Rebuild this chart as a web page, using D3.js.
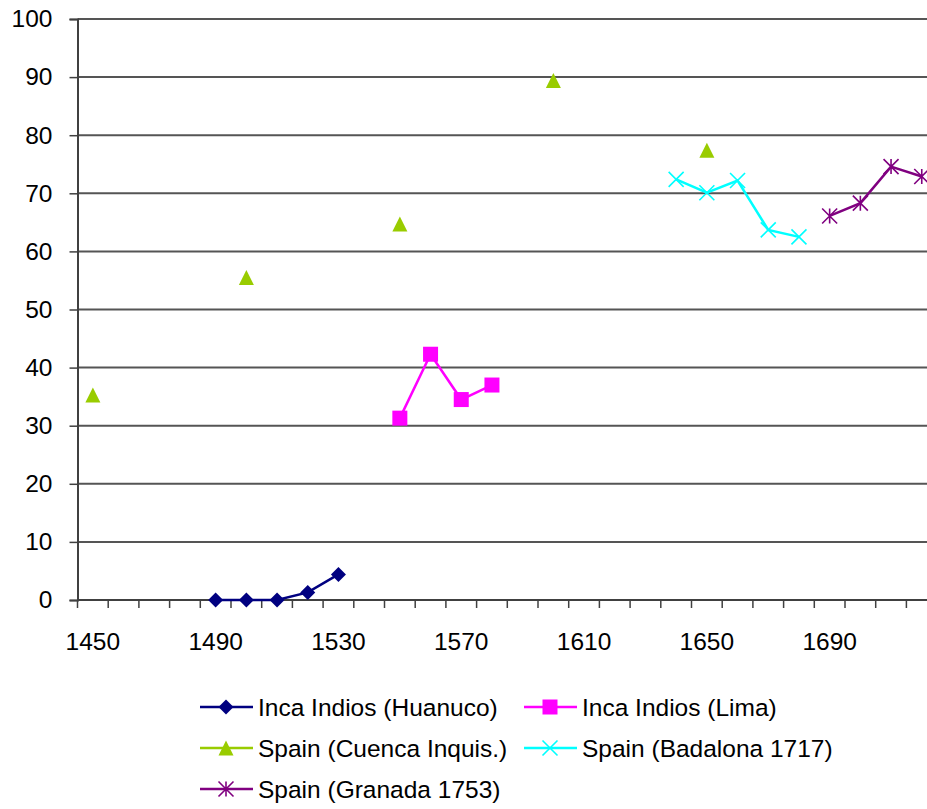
<!DOCTYPE html>
<html>
<head>
<meta charset="utf-8">
<script src="https://cdn.jsdelivr.net/npm/d3@7"></script>
<style>
  body { margin: 0; background: #fff; }
  text { font-family: "Liberation Sans", Arial, sans-serif; fill: #000; }
</style>
</head>
<body>
<div id="chart"></div>
<script>
// categories (decades) on the x axis
const years = [1450, 1460, 1470, 1480, 1490, 1500, 1510, 1520, 1530, 1540,
    1550, 1560, 1570, 1580, 1590, 1600, 1610, 1620, 1630, 1640,
    1650, 1660, 1670, 1680, 1690, 1700, 1710, 1720];
const xTickLabels = [1450, 1490, 1530, 1570, 1610, 1650, 1690];
const yTicks = [0, 10, 20, 30, 40, 50, 60, 70, 80, 90, 100];

const huanucoYears = [1490, 1500, 1510, 1520, 1530];
const huanucoValues = [0, 0, 0, 1.3, 4.4];

const limaYears = [1550, 1560, 1570, 1580];
const limaValues = [31.3, 42.3, 34.5, 37.0];

const cuencaYears = [1450, 1500, 1550, 1600, 1650];
const cuencaValues = [35.3, 55.5, 64.7, 89.4, 77.4];

const badalonaYears = [1640, 1650, 1660, 1670, 1680];
const badalonaValues = [72.4, 70.1, 72.2, 63.7, 62.5];

const granadaYears = [1690, 1700, 1710, 1720];
const granadaValues = [66.1, 68.3, 74.6, 72.9];

const series = [
    { name: "Inca Indios (Huanuco)", years: huanucoYears, values: huanucoValues, color: "#000080", marker: "diamond", line: true },
    { name: "Inca Indios (Lima)", years: limaYears, values: limaValues, color: "#FF00FF", marker: "square", line: true },
    { name: "Spain (Cuenca Inquis.)", years: cuencaYears, values: cuencaValues, color: "#99CC00", marker: "triangle", line: false },
    { name: "Spain (Badalona 1717)", years: badalonaYears, values: badalonaValues, color: "#00FFFF", marker: "x", line: true },
    { name: "Spain (Granada 1753)", years: granadaYears, values: granadaValues, color: "#800080", marker: "star", line: true }
];

const W = 927, H = 809;
const plotLeft = 77.5, plotTop = 19, plotBottom = 600, band = 30.7;
const fontSize = 24.5;

const svg = d3.select("#chart").append("svg")
    .attr("width", W)
    .attr("height", H);

const x = d3.scaleBand()
    .domain(years)
    .range([plotLeft, plotLeft + band * years.length])
    .paddingInner(0).paddingOuter(0);

const y = d3.scaleLinear()
    .domain([0, 100])
    .range([plotBottom, plotTop]);

const cx = d => x(d) + x.bandwidth() / 2;

// gridlines
svg.append("g")
    .selectAll("line")
    .data(yTicks.filter(t => t > 0))
    .enter()
    .append("line")
    .attr("x1", plotLeft)
    .attr("x2", W)
    .attr("y1", d => y(d))
    .attr("y2", d => y(d))
    .attr("stroke", "#555")
    .attr("stroke-width", 2);

// y axis
const yAxis = svg.append("g")
    .attr("transform", `translate(${plotLeft},0)`)
    .call(d3.axisLeft(y).tickValues(yTicks).tickSize(8).tickPadding(17));
yAxis.select(".domain").attr("stroke", "#404040").attr("stroke-width", 2);
yAxis.selectAll(".tick line").attr("stroke", "#404040").attr("stroke-width", 1.5);
yAxis.selectAll(".tick text")
    .attr("font-size", fontSize)
    .attr("font-family", "Liberation Sans, Arial, sans-serif")
    .attr("fill", "#000");

// x axis: ticks at category boundaries, labels every 4th category
const xg = svg.append("g");
xg.append("line")
    .attr("x1", plotLeft).attr("x2", W)
    .attr("y1", plotBottom).attr("y2", plotBottom)
    .attr("stroke", "#404040")
    .attr("stroke-width", 2);
xg.selectAll(".xt")
    .data(years)
    .enter()
    .append("line")
    .attr("class", "xt")
    .attr("x1", d => x(d)).attr("x2", d => x(d))
    .attr("y1", plotBottom).attr("y2", plotBottom + 8)
    .attr("stroke", "#404040")
    .attr("stroke-width", 1.5);
xg.selectAll(".xl")
    .data(xTickLabels)
    .enter()
    .append("text")
    .attr("class", "xl")
    .attr("x", d => cx(d))
    .attr("y", 650)
    .attr("text-anchor", "middle")
    .attr("font-size", fontSize)
    .text(d => d);

// markers
function drawMarker(g, type, color) {
    const s = 7.5;
    if (type === "diamond") {
        g.append("path").attr("d", `M0,${-s}L${s},0L0,${s}L${-s},0Z`).attr("fill", color);
    } else if (type === "square") {
        g.append("rect").attr("x", -s).attr("y", -s).attr("width", 2 * s).attr("height", 2 * s).attr("fill", color);
    } else if (type === "triangle") {
        g.append("path").attr("d", `M0,${-s}L${s},${s}L${-s},${s}Z`).attr("fill", color);
    } else if (type === "x") {
        g.append("path").attr("d", `M${-s},${-s}L${s},${s}M${s},${-s}L${-s},${s}`)
            .attr("stroke", color).attr("stroke-width", 1.6).attr("fill", "none");
    } else if (type === "star") {
        g.append("path").attr("d", `M${-s},${-s}L${s},${s}M${s},${-s}L${-s},${s}M0,${-s}L0,${s}`)
            .attr("stroke", color).attr("stroke-width", 1.6).attr("fill", "none");
    }
}

const line = d3.line()
    .x(d => cx(d.year))
    .y(d => y(d.value));

series.forEach(s => {
    const pts = s.years.map((yr, i) => ({ year: yr, value: s.values[i] }));
    if (s.line) {
        svg.append("path")
            .datum(pts)
            .attr("fill", "none")
            .attr("stroke", s.color)
            .attr("stroke-width", 2.5)
            .attr("d", line);
    }
    pts.forEach(p => {
        const g = svg.append("g").attr("transform", `translate(${cx(p.year)},${y(p.value)})`);
        drawMarker(g, s.marker, s.color);
    });
});

// legend
const legendPos = [
    { lx: 200, ty: 707 }, { lx: 524, ty: 707 },
    { lx: 200, ty: 748 }, { lx: 524, ty: 748 },
    { lx: 200, ty: 789 }
];
series.forEach((s, i) => {
    const p = legendPos[i];
    const g = svg.append("g");
    g.append("line")
        .attr("x1", p.lx).attr("x2", p.lx + 53)
        .attr("y1", p.ty).attr("y2", p.ty)
        .attr("stroke", s.color)
        .attr("stroke-width", 2.5);
    drawMarker(g.append("g").attr("transform", `translate(${p.lx + 26},${p.ty})`), s.marker, s.color);
    g.append("text")
        .attr("x", p.lx + 58)
        .attr("y", p.ty)
        .attr("dy", "0.35em")
        .attr("font-size", fontSize)
        .text(s.name);
});
</script>
</body>
</html>
